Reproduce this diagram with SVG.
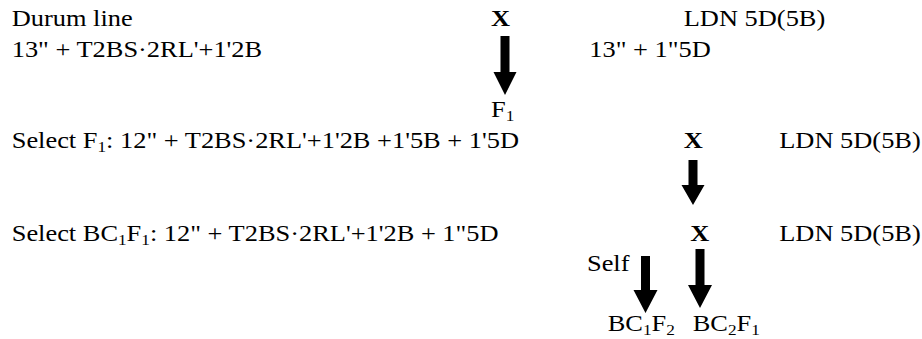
<svg xmlns="http://www.w3.org/2000/svg" width="922" height="339" viewBox="0 0 922 339">
<style>
text{font-family:"Liberation Serif","Times New Roman",serif;font-size:23px;fill:#000}
.b{font-weight:bold}
.s{font-size:15px}
.arr{fill:#000;stroke:none}
</style>
<rect width="922" height="339" fill="#fff"/>
<g transform="scale(1.148 1)">
<g id="durum"><text x="10.19" y="26.5">Durum line</text><text x="10.19" y="57">13" + T2BS·2RL'+1'2B</text></g>
<g id="x1"><text class="b" x="427.7" y="26.5">X</text></g>
<g id="ldn1"><text x="595.6" y="26.5">LDN 5D(5B)</text><text x="513.3" y="57">13" + 1"5D</text></g>
<g id="f1"><text x="427.7" y="117">F<tspan class="s" dy="4">1</tspan></text></g>
<g id="selF1"><text x="10.19" y="148">Select F<tspan class="s" dy="4">1</tspan><tspan dy="-4">: 12" + T2BS·2RL'+1'2B +1'5B + 1'5D</tspan></text></g>
<g id="x2"><text class="b" x="595.6" y="148">X</text></g>
<g id="ldn2"><text x="678.8" y="148">LDN 5D(5B)</text></g>
<g id="selBC1F1"><text x="10.19" y="241.5">Select BC<tspan class="s" dy="4">1</tspan><tspan dy="-4">F</tspan><tspan class="s" dy="4">1</tspan><tspan dy="-4">: 12" + T2BS·2RL'+1'2B + 1"5D</tspan></text></g>
<g id="x3"><text class="b" x="601.3" y="241.5">X</text></g>
<g id="ldn3"><text x="678.8" y="241.5">LDN 5D(5B)</text></g>
<g id="self"><text x="511.3" y="271.5">Self</text></g>
<g id="bc1f2"><text x="529.4" y="331.5">BC<tspan class="s" dy="4">1</tspan><tspan dy="-4">F</tspan><tspan class="s" dy="4">2</tspan></text></g>
<g id="bc2f1"><text x="603.4" y="331.5">BC<tspan class="s" dy="4">2</tspan><tspan dy="-4">F</tspan><tspan class="s" dy="4">1</tspan></text></g>
</g>
<g id="connectors">
<path class="arr" d="M500.5 36H509.5V72H516.5L505 95L493.5 72H500.5Z"/>
<path class="arr" d="M688.5 160H697.5V185H704.5L693 205L681.5 185H688.5Z"/>
<path class="arr" d="M641 256H650V290H657.5L645.5 313L633.5 290H641Z"/>
<path class="arr" d="M695.5 249H704.5V285H712L700 308L688 285H695.5Z"/>
</g>
</svg>
